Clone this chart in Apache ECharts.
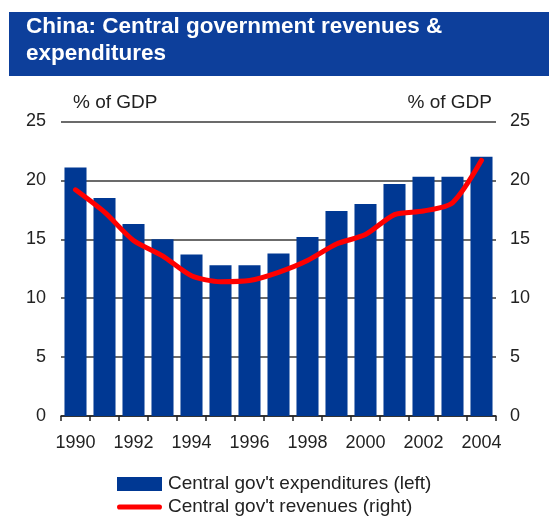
<!DOCTYPE html>
<html>
<head>
<meta charset="utf-8">
<style>
  html, body { margin: 0; padding: 0; background: #ffffff; }
  #chart { width: 549px; height: 523px; }
</style>
<script src="https://cdn.jsdelivr.net/npm/echarts@6/dist/echarts.min.js"></script>
</head>
<body>
<div id="chart"></div>
<script>
// Central government fiscal figures, % of GDP
const years = ['1990', '1991', '1992', '1993', '1994', '1995', '1996', '1997',
               '1998', '1999', '2000', '2001', '2002', '2003', '2004'];
const expenditures = [21.1, 18.5, 16.3, 15.0, 13.7, 12.8, 12.8, 13.8,
                      15.2, 17.4, 18.0, 19.7, 20.3, 20.3, 22.0];
const revenues = [19.2, 17.3, 14.9, 13.6, 11.9, 11.4, 11.5, 12.2,
                  13.2, 14.6, 15.4, 17.1, 17.4, 18.1, 21.7];
const yTicks = { min: 0, max: 25, interval: 5 };

const FONT = '"Liberation Sans", Arial, sans-serif';
const TEXT = '#222222';
const BLUE = '#003893';
const RED = '#ff0000';

// thick red stroke with rounded ends for the revenue legend entry
const LINE_ICON = 'path://M2.5,0 L41.5,0 A2.5,2.5 0 0 1 41.5,5 L2.5,5 A2.5,2.5 0 0 1 2.5,0 Z';

const chart = echarts.init(document.getElementById('chart'), null, { renderer: 'canvas' });

chart.setOption({
  animation: false,
  backgroundColor: '#ffffff',
  textStyle: { fontFamily: FONT },
  graphic: [{
    type: 'rect',
    z: -1,
    shape: { x: 9, y: 12, width: 540, height: 64 },
    style: { fill: '#0d3f9b' }
  }],
  title: {
    text: 'China: Central government revenues &\nexpenditures',
    left: 26,
    top: 13,
    padding: 0,
    textStyle: {
      color: '#ffffff',
      fontFamily: FONT,
      fontWeight: 'bold',
      fontSize: 22.5,
      lineHeight: 27
    }
  },
  grid: { left: 61, right: 53, top: 121.5, bottom: 107, containLabel: false },
  legend: {
    orient: 'vertical',
    left: 117,
    top: 474,
    height: 60,
    padding: 0,
    itemWidth: 45,
    itemHeight: 14,
    itemGap: 3,
    textStyle: { color: TEXT, fontFamily: FONT, fontSize: 19, lineHeight: 20, padding: [0, 0, 0, 1] },
    data: [
      { name: "Central gov't expenditures (left)", icon: 'rect' },
      { name: "Central gov't revenues (right)", icon: LINE_ICON }
    ]
  },
  xAxis: {
    type: 'category',
    data: years,
    boundaryGap: true,
    axisLine: { lineStyle: { color: TEXT, width: 1.5 } },
    axisTick: { show: true, interval: 0, length: 5, lineStyle: { color: TEXT, width: 1.5 } },
    axisLabel: { interval: 1, color: TEXT, fontSize: 18, fontFamily: FONT, margin: 18 },
    splitLine: { show: false }
  },
  yAxis: [
    {
      type: 'value',
      min: yTicks.min, max: yTicks.max, interval: yTicks.interval,
      name: '% of GDP',
      nameLocation: 'end',
      nameGap: 19,
      nameTextStyle: { color: TEXT, fontSize: 19, fontFamily: FONT, align: 'left', verticalAlign: 'middle', padding: [0, 0, 0, 12] },
      axisLine: { show: false },
      axisTick: { show: false },
      axisLabel: { color: TEXT, fontSize: 18, fontFamily: FONT, margin: 15 },
      splitLine: { show: true, lineStyle: { color: '#3a3a3a', width: 1.5 } }
    },
    {
      type: 'value',
      min: yTicks.min, max: yTicks.max, interval: yTicks.interval,
      name: '% of GDP',
      nameLocation: 'end',
      nameGap: 19,
      nameTextStyle: { color: TEXT, fontSize: 19, fontFamily: FONT, align: 'right', verticalAlign: 'middle', padding: [0, 4, 0, 0] },
      axisLine: { show: false },
      axisTick: { show: false },
      axisLabel: { color: TEXT, fontSize: 18, fontFamily: FONT, margin: 14 },
      splitLine: { show: false }
    }
  ],
  series: [
    {
      name: "Central gov't expenditures (left)",
      type: 'bar',
      yAxisIndex: 0,
      data: expenditures,
      barCategoryGap: '24%',
      itemStyle: { color: BLUE }
    },
    {
      name: "Central gov't revenues (right)",
      type: 'line',
      yAxisIndex: 1,
      data: revenues,
      smooth: 0.25,
      symbol: 'none',
      lineStyle: { color: RED, width: 5, cap: 'round', join: 'round' },
      itemStyle: { color: RED }
    }
  ]
});
</script>
</body>
</html>
